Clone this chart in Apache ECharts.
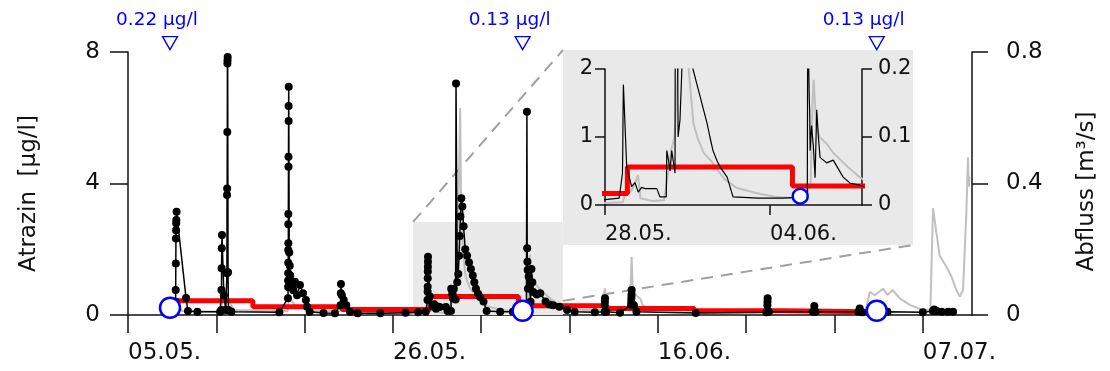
<!DOCTYPE html>
<html>
<head>
<meta charset="utf-8">
<script src="https://cdn.jsdelivr.net/npm/echarts@6/dist/echarts.min.js"></script>
<style>
html, body { margin: 0; padding: 0; background: #fff; }
#chart { width: 1110px; height: 371px; }
</style>
</head>
<body>
<div id="chart"></div>
<script>
// x values are days counted from 05.05.
const weekTicks = [0, 7, 14, 21, 28, 35, 42, 49, 56, 63]
const dateTicks = [0, 21, 42, 63]
const dateLabels = ['05.05.', '26.05.', '16.06.', '07.07.']
const insetTicks = [23, 30]
const insetLabels = ['28.05.', '04.06.']

// Atrazin [µg/l], continuous sampling
const atrazin = [
  [2.9, 0.1], [3.5, 0.1], [3.77, 0.4], [3.78, 0.76], [3.79, 1.57], [3.8, 2.33], [3.81, 2.58], [3.82, 2.79], [3.83, 2.89], [3.85, 3.14], [4.6, 0.52], [4.75, 0.12],
  [5.5, 0.1], [7.3, 0.1],
  [7.4, 0.15], [7.41, 0.76], [7.42, 1.42], [7.43, 2.03], [7.45, 2.43], [7.6, 0.6], [7.75, 0.15],
  [7.84, 1.27], [7.85, 3.65], [7.86, 3.85], [7.87, 5.57], [7.88, 7.65], [7.89, 7.75], [7.9, 7.85], [7.93, 1.3], [7.96, 0.15], [8.2, 0.1],
  [12.0, 0.08], [12.68, 0.51], [12.69, 0.85], [12.69, 1.05], [12.7, 1.27], [12.7, 1.59], [12.7, 1.98], [12.71, 2.18], [12.71, 2.76], [12.71, 3.07], [12.72, 4.51], [12.72, 4.81], [12.73, 5.9], [12.73, 6.36], [12.74, 6.94],
  [12.78, 1.9], [12.82, 1.5], [12.86, 1.2], [12.95, 0.9], [13.1, 0.75], [13.23, 1.01], [13.4, 0.6], [13.63, 0.91], [13.87, 0.66], [14.1, 0.46], [14.2, 0.25], [14.4, 0.1],
  [15.5, 0.06], [16.4, 0.05],
  [16.85, 0.3], [16.87, 0.66], [16.88, 0.94], [16.95, 0.6], [17.1, 0.46], [17.3, 0.3], [17.6, 0.1], [18.2, 0.05],
  [20.0, 0.05], [22.0, 0.07], [23.0, 0.08], [23.6, 0.1],
  [23.74, 0.46], [23.75, 0.71], [23.755, 0.86], [23.76, 1.12], [23.765, 1.32], [23.77, 1.47], [23.775, 1.62], [23.78, 1.77],
  [23.92, 0.56], [24.13, 0.27], [24.27, 0.33], [24.41, 0.19], [24.55, 0.26], [24.7, 0.24], [25.2, 0.24], [25.33, 0.12], [25.6, 0.12],
  [25.62, 0.8], [25.7, 0.65], [25.76, 0.5], [25.83, 0.8], [25.97, 0.47], [26.0, 7.04], [26.1, 1.0], [26.18, 1.25], [26.24, 1.8], [26.3, 2.4], [26.35, 3.0], [26.42, 3.55],
  [26.5, 3.3], [26.6, 2.7], [26.73, 2.0], [26.88, 1.8], [27.03, 1.6], [27.18, 1.4], [27.33, 1.2], [27.45, 1.0], [27.58, 0.8], [27.75, 0.65], [27.9, 0.55], [28.18, 0.41], [28.43, 0.12],
  [29.5, 0.1], [30.5, 0.1], [31.58, 0.12],
  [31.62, 6.18], [31.64, 2.03], [31.66, 1.62], [31.68, 1.37], [31.7, 0.8], [31.76, 1.17], [31.84, 0.85], [31.91, 0.4], [31.98, 1.4], [32.05, 1.0], [32.12, 0.7], [32.4, 0.62], [32.68, 0.66],
  [33.1, 0.41], [33.4, 0.32], [33.7, 0.3], [34.2, 0.25], [34.8, 0.15], [35.4, 0.1],
  [37.0, 0.08], [37.78, 0.1], [37.79, 0.3], [37.8, 0.4], [37.81, 0.51], [37.9, 0.1],
  [39.0, 0.07], [39.88, 0.3], [39.89, 0.4], [39.9, 0.51], [39.91, 0.61], [39.92, 0.76], [40.1, 0.3], [40.3, 0.1],
  [45.0, 0.06], [50.6, 0.08], [50.68, 0.3], [50.69, 0.4], [50.7, 0.51], [50.8, 0.1],
  [54.3, 0.1], [54.4, 0.27], [54.5, 0.1],
  [57.9, 0.1], [58.0, 0.2], [58.2, 0.08],
  [60.2, 0.1], [63.0, 0.08], [63.8, 0.12], [63.9, 0.17], [64.1, 0.12], [64.5, 0.1], [65.0, 0.1], [65.4, 0.1]
]

// Abfluss [m³/s]
const abfluss = [
  [2.9, 0.008], [3.7, 0.008], [3.85, 0.03], [4.3, 0.012], [7.35, 0.01], [7.45, 0.04], [7.9, 0.05], [8.4, 0.015],
  [12.65, 0.012], [12.75, 0.05], [13.4, 0.025], [14.5, 0.012], [16.85, 0.012], [16.95, 0.03], [17.6, 0.01], [22.0, 0.005],
  [23.0, 0.003], [23.75, 0.004], [23.85, 0.015], [24.1, 0.02], [24.25, 0.03], [24.4, 0.044], [24.5, 0.01], [25.0, 0.006], [25.5, 0.007],
  [25.65, 0.04], [25.8, 0.08], [25.95, 0.1], [26.1, 0.2], [26.25, 0.45], [26.33, 0.63], [26.4, 0.35], [26.55, 0.2], [26.75, 0.12],
  [26.95, 0.096], [27.2, 0.076], [27.5, 0.065], [27.8, 0.05], [28.1, 0.037], [28.6, 0.025], [29.5, 0.017], [30.2, 0.012], [31.0, 0.01], [31.5, 0.01],
  [31.72, 0.03], [31.8, 0.15], [31.85, 0.184], [31.95, 0.12], [32.1, 0.1], [32.4, 0.09], [32.7, 0.076], [33.0, 0.066], [33.3, 0.056], [33.8, 0.041],
  [34.3, 0.03], [35.0, 0.02], [36.0, 0.015],
  [37.6, 0.015], [37.8, 0.081], [38.0, 0.03], [38.5, 0.02],
  [39.7, 0.02], [39.85, 0.1], [39.92, 0.177], [40.0, 0.09], [40.25, 0.06], [40.6, 0.05], [40.8, 0.03], [41.5, 0.015],
  [45.0, 0.01], [50.6, 0.01], [50.75, 0.02], [51.0, 0.01], [58.4, 0.01],
  [58.5, 0.02], [58.8, 0.07], [59.2, 0.06], [59.85, 0.08], [60.2, 0.061], [60.6, 0.076], [61.2, 0.05], [62.0, 0.03], [63.0, 0.015], [63.6, 0.015],
  [63.81, 0.325], [64.08, 0.25], [64.34, 0.18], [64.87, 0.147], [65.27, 0.117], [65.66, 0.076], [65.93, 0.056], [66.19, 0.076], [66.45, 0.31], [66.58, 0.48], [66.65, 0.39], [66.7, 0.42]
]

// weekly composite samples: start day and concentration [µg/l]
const compositeStart = [2.85, 9.9, 16.95, 23.95, 30.95, 37.8, 44.9, 51.9]
const compositeEnd = 58.6
const compositeConc = [0.43, 0.25, 0.17, 0.56, 0.28, 0.2, 0.13, 0.1]

// grab samples
const grabDay = [3.33, 31.28, 59.35]
const grabConc = [0.22, 0.13, 0.13]

const font = 'DejaVu Sans'
const ink = '#111'
const blue = '#0000ff'
const shade = '#eae9ea'

const composite = compositeStart.map((d, i) => [d, compositeConc[i]])
composite.push([compositeEnd, compositeConc[compositeConc.length - 1]])
const grabs = grabDay.map((d, i) => [d, grabConc[i]])
const markerLevel = 8.27
const markers = grabDay.map((d, i) => [d, markerLevel, grabConc[i]])

const mainGrid = { left: 128, top: 52, width: 844, height: 263 }
const insetGrid = { left: 605, top: 69, width: 257, height: 136 }
const insetPad = { left: 42, right: 51, top: 19, bottom: 40 }
const zoomBox = { x0: 22.6, x1: 34.47, top: 2.83, lineY: 0.43 }

const axisLine = { show: true, lineStyle: { color: ink, width: 1.5 } }
const tickStyle = { color: ink, width: 1.5 }

const chart = echarts.init(document.getElementById('chart'))

chart.setOption({
  animation: false,
  textStyle: { fontFamily: font },
  grid: [
    { ...mainGrid },
    { ...insetGrid }
  ],
  xAxis: [
    {
      type: 'value', gridIndex: 0, min: 0, max: 66.9,
      axisLine,
      splitLine: { show: false },
      axisTick: { show: true, length: 18, customValues: weekTicks, lineStyle: tickStyle },
      axisLabel: {
        customValues: dateTicks,
        formatter: v => dateLabels[dateTicks.indexOf(v)] || '',
        align: 'left', margin: 27, fontSize: 23, color: ink
      }
    },
    {
      type: 'value', gridIndex: 1, min: 23, max: 33.9,
      axisLine,
      splitLine: { show: false },
      axisTick: { show: true, length: 10, customValues: insetTicks, lineStyle: tickStyle },
      axisLabel: {
        customValues: insetTicks,
        formatter: v => insetLabels[insetTicks.indexOf(v)] || '',
        align: 'left', margin: 19, fontSize: 21, color: ink
      }
    }
  ],
  yAxis: [
    {
      type: 'value', gridIndex: 0, min: 0, max: 8, interval: 4,
      axisLine, splitLine: { show: false },
      axisTick: { show: true, length: 18, lineStyle: tickStyle },
      axisLabel: { margin: 28, fontSize: 23, color: ink },
      name: 'Atrazin  [µg/l]', nameLocation: 'middle', nameRotate: 90, nameGap: 87,
      nameTextStyle: { fontSize: 23, color: ink, padding: [0, 20, 0, 0] }
    },
    {
      type: 'value', gridIndex: 0, position: 'right', min: 0, max: 0.8, interval: 0.4,
      axisLine, splitLine: { show: false },
      axisTick: { show: true, length: 16, lineStyle: tickStyle },
      axisLabel: { margin: 34, fontSize: 23, color: ink },
      name: 'Abfluss [m³/s]', nameLocation: 'middle', nameRotate: 90, nameGap: 104,
      nameTextStyle: { fontSize: 23, color: ink, padding: [0, 16, 0, 0] }
    },
    {
      type: 'value', gridIndex: 1, min: 0, max: 2, interval: 1,
      axisLine, splitLine: { show: false },
      axisTick: { show: true, length: 10, lineStyle: tickStyle },
      axisLabel: { margin: 12, fontSize: 21, color: ink }
    },
    {
      type: 'value', gridIndex: 1, position: 'right', min: 0, max: 0.2, interval: 0.1,
      axisLine, splitLine: { show: false },
      axisTick: { show: true, length: 10, lineStyle: tickStyle },
      axisLabel: { margin: 16, fontSize: 21, color: ink }
    }
  ],
  series: [
    {
      type: 'line', xAxisIndex: 0, yAxisIndex: 1, data: abfluss, z: 2,
      showSymbol: false, lineStyle: { color: '#c0c0c0', width: 2 }
    },
    {
      type: 'line', xAxisIndex: 0, yAxisIndex: 0, data: composite, step: 'end', z: 3,
      showSymbol: false, lineStyle: { color: '#ff0000', width: 5 }
    },
    {
      type: 'line', xAxisIndex: 0, yAxisIndex: 0, data: atrazin, z: 4,
      symbol: 'circle', symbolSize: 8, showSymbol: true,
      itemStyle: { color: '#000' }, lineStyle: { color: '#000', width: 1.5 },
      markArea: {
        silent: true,
        itemStyle: { color: shade },
        data: [[{ xAxis: zoomBox.x0, yAxis: zoomBox.top }, { xAxis: zoomBox.x1, yAxis: 0 }]]
      }
    },
    {
      type: 'scatter', xAxisIndex: 0, yAxisIndex: 0, data: grabs, z: 5,
      symbolSize: 20, itemStyle: { color: '#fff', borderColor: blue, borderWidth: 2.5, opacity: 1 }
    },
    {
      type: 'scatter', xAxisIndex: 0, yAxisIndex: 0, data: markers, z: 5, clip: false,
      symbol: 'triangle', symbolRotate: 180, symbolSize: [15, 13],
      itemStyle: { color: '#fff', borderColor: blue, borderWidth: 1.3, opacity: 1 },
      label: {
        show: true, position: 'top', distance: 6, offset: [-13, 0],
        formatter: p => p.value[2].toFixed(2) + ' µg/l',
        color: blue, fontSize: 18.5, fontFamily: font
      }
    },
    {
      type: 'line', xAxisIndex: 1, yAxisIndex: 3, data: abfluss, z: 2,
      showSymbol: false, lineStyle: { color: '#c0c0c0', width: 2 }
    },
    {
      type: 'line', xAxisIndex: 1, yAxisIndex: 2, data: composite, step: 'end', z: 3,
      showSymbol: false, lineStyle: { color: '#ff0000', width: 5 }
    },
    {
      type: 'line', xAxisIndex: 1, yAxisIndex: 2, data: atrazin, z: 4,
      showSymbol: false, lineStyle: { color: '#000', width: 1.2 }
    },
    {
      type: 'scatter', xAxisIndex: 1, yAxisIndex: 2, data: grabs, z: 5,
      symbolSize: 15, itemStyle: { color: '#fff', borderColor: blue, borderWidth: 2.5, opacity: 1 }
    }
  ]
})

// inset panel background and the dashed connectors
const finder = { xAxisIndex: 0, yAxisIndex: 0 }
const boxTL = chart.convertToPixel(finder, [zoomBox.x0, zoomBox.top])
const boxR = chart.convertToPixel(finder, [zoomBox.x1, zoomBox.lineY])
const panel = {
  x: insetGrid.left - insetPad.left,
  y: insetGrid.top - insetPad.top,
  w: insetGrid.width + insetPad.left + insetPad.right,
  h: insetGrid.height + insetPad.top + insetPad.bottom
}
const dashed = { stroke: '#a0a0a0', lineWidth: 2, lineDash: [12, 8] }

chart.setOption({
  graphic: [
    { type: 'rect', z: -1, silent: true, shape: { x: panel.x, y: panel.y, width: panel.w, height: panel.h }, style: { fill: shade } },
    { type: 'line', z: 1, silent: true, shape: { x1: boxTL[0], y1: boxTL[1], x2: panel.x, y2: panel.y }, style: dashed },
    { type: 'line', z: 1, silent: true, shape: { x1: boxR[0], y1: boxR[1], x2: panel.x + panel.w, y2: panel.y + panel.h }, style: dashed }
  ]
})
</script>
</body>
</html>
